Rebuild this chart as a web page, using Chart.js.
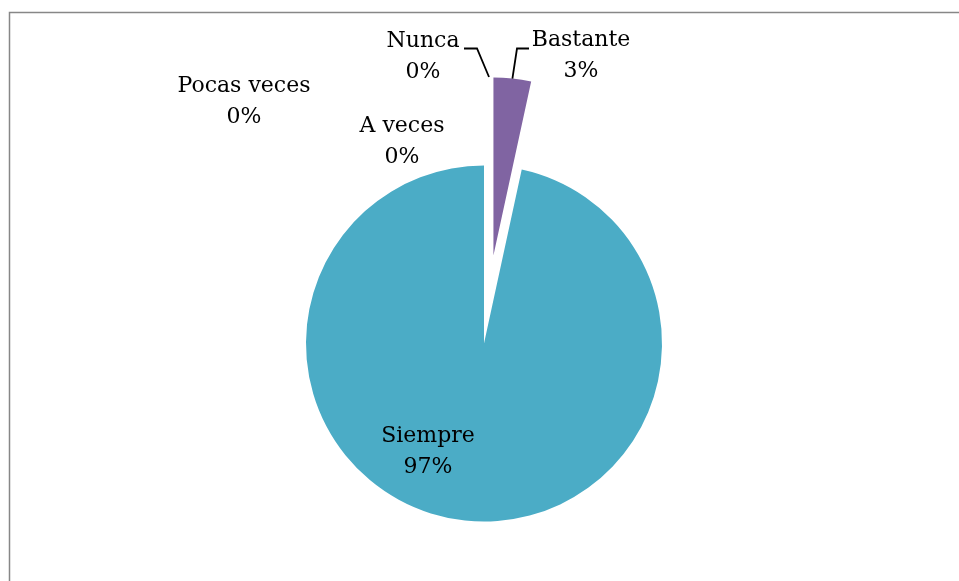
<!DOCTYPE html>
<html>
<head>
<meta charset="utf-8">
<script src="https://cdn.jsdelivr.net/npm/chart.js@4/dist/chart.umd.min.js"></script>
<style>
  html, body { margin: 0; padding: 0; background: #ffffff; }
  canvas { display: block; }
</style>
</head>
<body>
<canvas id="c" width="959" height="581"></canvas>
<script>
// ---- data ----
const categories = ["Nunca", "Pocas veces", "A veces", "Bastante", "Siempre"];
const values = [0, 0, 0, 3.4, 96.6];
const colors = ["#4F81BD", "#C0504D", "#9BBB59", "#8064A2", "#4BACC6"];

// ---- label placement (style/layout only) ----
const labelPos = {
  "Nunca":       { x: 423, y: 47 },
  "Pocas veces": { x: 244, y: 92 },
  "A veces":     { x: 402, y: 132 },
  "Bastante":    { x: 581, y: 46 },
  "Siempre":     { x: 428, y: 442 }
};
const explodeIndex = 3;
const explodeDist = 88.5;

const explodePlugin = {
  id: 'explode',
  afterDatasetsUpdate(chart) {
    const meta = chart.getDatasetMeta(0);
    const arc = meta.data[explodeIndex];
    if (!arc || arc._exploded) return;
    const mid = (arc.startAngle + arc.endAngle) / 2;
    arc.x += Math.cos(mid) * explodeDist;
    arc.y += Math.sin(mid) * explodeDist;
    arc._exploded = true;
  }
};

const framePlugin = {
  id: 'frame',
  beforeDraw(chart) {
    const ctx = chart.ctx;
    ctx.save();
    ctx.strokeStyle = '#878787';
    ctx.lineWidth = 1.5;
    ctx.beginPath();
    ctx.moveTo(9.5, 581);
    ctx.lineTo(9.5, 12.5);
    ctx.lineTo(959, 12.5);
    ctx.stroke();
    ctx.restore();
  }
};

const labelPlugin = {
  id: 'pieLabels',
  afterDraw(chart) {
    const ctx = chart.ctx;
    const meta = chart.getDatasetMeta(0);
    ctx.save();
    ctx.fillStyle = '#000000';
    ctx.font = '22px "DejaVu Serif", serif';
    ctx.textAlign = 'center';
    ctx.textBaseline = 'alphabetic';
    const lh = 31;
    categories.forEach((cat, i) => {
      const p = labelPos[cat];
      const pct = Math.round(values[i]) + '%';
      ctx.fillText(cat, p.x, p.y);
      ctx.fillText(pct, p.x, p.y + lh);
    });
    // leader lines
    ctx.strokeStyle = '#000000';
    ctx.lineWidth = 1.8;
    // Bastante: to outer midpoint of its (exploded) arc
    const arc = meta.data[explodeIndex];
    const mid = (arc.startAngle + arc.endAngle) / 2;
    const ex = arc.x + Math.cos(mid) * arc.outerRadius;
    const ey = arc.y + Math.sin(mid) * arc.outerRadius;
    ctx.beginPath();
    ctx.moveTo(529, 48.5);
    ctx.lineTo(517, 48.5);
    ctx.lineTo(ex, ey);
    ctx.stroke();
    // Nunca
    ctx.beginPath();
    ctx.moveTo(464, 48.5);
    ctx.lineTo(477, 48.5);
    ctx.lineTo(489, 77);
    ctx.stroke();
    ctx.restore();
  }
};

new Chart(document.getElementById('c'), {
  type: 'pie',
  data: {
    labels: categories,
    datasets: [{
      data: values,
      backgroundColor: colors,
      borderWidth: 0,
      radius: 178
    }]
  },
  options: {
    responsive: false,
    animation: false,
    layout: { padding: { left: 9, right: 0, top: 106, bottom: 0 } },
    plugins: {
      legend: { display: false },
      tooltip: { enabled: false },
      title: { display: false }
    }
  },
  plugins: [explodePlugin, framePlugin, labelPlugin]
});
</script>
</body>
</html>
